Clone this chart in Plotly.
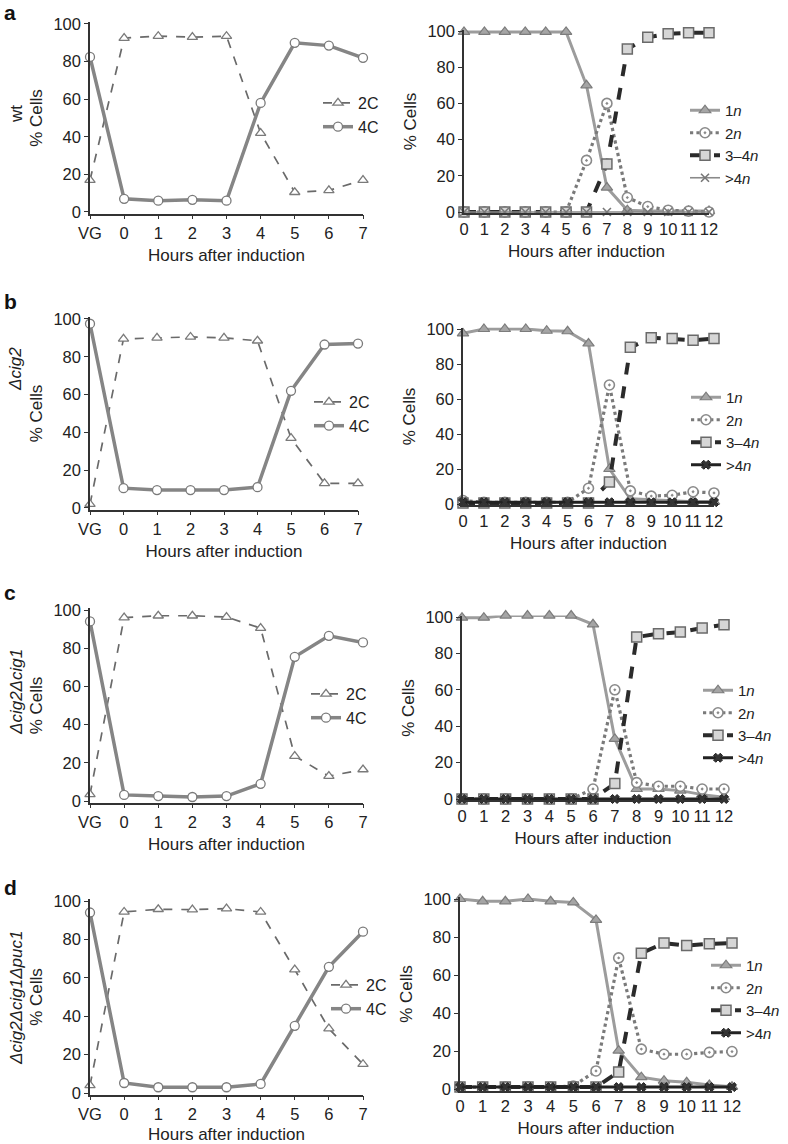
import plotly.graph_objects as go

W, H = 788, 1144

# ---------------- data ----------------
left_cats = ["VG", "0", "1", "2", "3", "4", "5", "6", "7"]
hours = list(range(13))

wt_2C = [17, 92.5, 93.5, 93, 93.5, 42, 10.5, 11.5, 17]
wt_4C = [82.5, 7, 6, 6.5, 6, 58, 90, 88.5, 82]
wt_1n = [99.5, 99.5, 99.5, 99.5, 99.5, 99.5, 70, 13.5, 1, 0.5, 0.5, 0.5, 0.5]
wt_2n = [0, 0, 0, 0, 0, 0, 28.5, 60, 8, 3, 1, 0.5, 0]
wt_34n = [0, 0, 0, 0, 0, 0, 0, 26.5, 90, 96.5, 98.5, 99, 99]
wt_g4n = [0, 0, 0, 0, 0, 0, 0, 0, 0, 0, 0, 0, 0]

b_2C = [2, 89.5, 90, 90.5, 90, 88.5, 37, 13, 13]
b_4C = [97.5, 10.5, 9.5, 9.5, 9.5, 11, 62, 86.5, 87]
b_1n = [97.5, 100, 100, 100, 99, 98.7, 91.7, 20, 3, 2.3, 1.9, 1.3, 1.3]
b_2n = [2, 1, 1, 1, 1, 1, 9, 68, 7.5, 4.5, 5, 7, 6.3]
b_34n = [0.5, 0.5, 0.5, 0.5, 0.5, 0.5, 0.5, 12.5, 89.5, 95, 94.5, 93.5, 94.5]
b_g4n = [1, 1, 1, 1, 1, 1, 1, 1, 1, 1, 1, 1, 1]

c_2C = [3.5, 96, 97, 97, 96.3, 90.5, 23.5, 13, 16.5]
c_4C = [94, 3.2, 2.6, 2.1, 2.6, 9, 75.5, 86.5, 83]
c_1n = [99.6, 99.6, 100.8, 100.8, 100.8, 100.8, 96, 33, 5.5, 5.5, 4.6, 2.4, 1]
c_2n = [0, 0, 0, 0, 0, 0, 5.5, 60, 9, 7, 7, 5.5, 5.5]
c_34n = [0, 0, 0, 0, 0, 0, 0, 8.5, 89, 90.8, 91.7, 94, 95.8]
c_g4n = [0, 0, 0, 0, 0, 0, 0, 0, 0, 0, 0, 0, 0]

d_2C = [4, 94.3, 95.7, 95.5, 96, 94.3, 64.3, 33.5, 15]
d_4C = [94, 5.2, 3, 3, 3, 4.7, 35, 65.7, 84]
d_1n = [100, 98.8, 98.8, 100, 98.8, 98.2, 89, 20.2, 6.2, 4.4, 3.5, 2.1, 1.2]
d_2n = [1, 1, 1, 1, 1, 1.6, 9.5, 69, 21, 18.3, 18.3, 19.3, 19.7]
d_34n = [1, 1, 1, 1, 1, 1, 1, 9, 71.5, 76.8, 75.5, 76.4, 76.8]
d_g4n = [1, 1, 1, 1, 1, 1, 1, 1, 1, 1, 1, 1, 1]

strains = ["wt", "<i>Δcig2</i>", "<i>Δcig2Δcig1</i>", "<i>Δcig2Δcig1Δpuc1</i>"]
letters = ["a", "b", "c", "d"]
left_data = [(wt_2C, wt_4C), (b_2C, b_4C), (c_2C, c_4C), (d_2C, d_4C)]
right_data = [(wt_1n, wt_2n, wt_34n, wt_g4n), (b_1n, b_2n, b_34n, b_g4n),
              (c_1n, c_2n, c_34n, c_g4n), (d_1n, d_2n, d_34n, d_g4n)]

# ---------------- layout geometry (pixels) ----------------
left_box = [(90, 363, 24, 212), (90, 358, 319, 508), (90, 363, 610, 801), (90, 363, 901, 1093)]
right_box = [(464, 709, 31, 212), (463, 714, 329, 504), (462, 724, 617, 799), (460, 732, 899, 1089)]
left_leg = [(318, 86), (309, 385), (306, 677), (326, 968)]
right_leg = [(685, 94), (686, 381), (698, 674), (706, 949)]
strain_y = [114, 369, 692, 998]
letter_y = [13, 301, 592, 887]
PAD = 0.8  # y-range padding (data units) so lines at 0/100 are not clipped

FONT = "Liberation Sans, Arial, sans-serif"
TXT = "#222222"
AX = "#333333"


def px_x(p):
    return p / W


def px_y(p):
    return 1 - p / H


def ydom(top, bottom):
    span = bottom - top
    ext = span * PAD / 100
    return [px_y(bottom + ext), px_y(top - ext)]


fig = go.Figure()
layout = dict(
    width=W, height=H, margin=dict(l=0, r=0, t=0, b=0, autoexpand=False),
    paper_bgcolor="white", plot_bgcolor="white",
    font=dict(family=FONT, size=16, color=TXT),
    annotations=[],
)

axis_common = dict(showline=True, linecolor=AX, linewidth=1.5, ticks="outside",
                   ticklen=4, tickcolor=AX, tickwidth=1.2, showgrid=False, zeroline=False,
                   automargin=False, tickfont=dict(size=16.5, color=TXT))

for i in range(4):
    # ---- left panel ----
    ax = 2 * i + 1
    xa = "x" if ax == 1 else f"x{ax}"
    ya = "y" if ax == 1 else f"y{ax}"
    leg = "legend" if ax == 1 else f"legend{ax}"
    c2, c4 = left_data[i]
    fig.add_trace(go.Scatter(
        x=left_cats, y=c2, name="2C", xaxis=xa, yaxis=ya, legend=leg, cliponaxis=False,
        mode="lines+markers", line=dict(color="#6a6a6a", width=1.7, dash="dash"),
        marker=dict(symbol="triangle-up", size=9, color="white", line=dict(color="#7a7a7a", width=1.3))))
    fig.add_trace(go.Scatter(
        x=left_cats, y=c4, name="4C", xaxis=xa, yaxis=ya, legend=leg, cliponaxis=False,
        mode="lines+markers", line=dict(color="#858585", width=3.5),
        marker=dict(symbol="circle", size=9, color="white", line=dict(color="#7a7a7a", width=1.3))))
    x0, x1, y0, y1 = left_box[i]
    layout[f"xaxis{'' if ax == 1 else ax}"] = dict(
        axis_common, domain=[px_x(x0), px_x(x1)], anchor=ya, type="category",
        categoryorder="array", categoryarray=left_cats, range=[0, 8],
        title=dict(text="Hours after induction", font=dict(size=17, color=TXT), standoff=8))
    layout[f"yaxis{'' if ax == 1 else ax}"] = dict(
        axis_common, domain=ydom(y0, y1), anchor=xa, range=[-PAD, 100 + PAD],
        tickvals=[0, 20, 40, 60, 80, 100],
        title=dict(text="% Cells", font=dict(size=17, color=TXT), standoff=6))
    lx, ly = left_leg[i]
    layout[leg] = dict(x=px_x(lx), y=px_y(ly), xanchor="left", yanchor="top",
                       bgcolor="rgba(0,0,0,0)", font=dict(size=16, color=TXT),
                       tracegroupgap=0, itemwidth=30)

    # ---- right panel ----
    ax = 2 * i + 2
    xa = f"x{ax}"
    ya = f"y{ax}"
    leg = f"legend{ax}"
    n1, n2, n34, ng4 = right_data[i]
    fig.add_trace(go.Scatter(
        x=hours, y=n1, name="1<i>n</i>", xaxis=xa, yaxis=ya, legend=leg, cliponaxis=False,
        mode="lines+markers", line=dict(color="#9c9c9c", width=3),
        marker=dict(symbol="triangle-up", size=10, color="#a5a5a5", line=dict(color="#7c7c7c", width=1.2))))
    fig.add_trace(go.Scatter(
        x=hours, y=n2, name="2<i>n</i>", xaxis=xa, yaxis=ya, legend=leg, cliponaxis=False,
        mode="lines+markers", line=dict(color="#7a7a7a", width=3.2, dash="dot"),
        marker=dict(symbol="circle-dot", size=10, color="white", line=dict(color="#8a8a8a", width=1.6))))
    fig.add_trace(go.Scatter(
        x=hours, y=n34, name="3–4<i>n</i>", xaxis=xa, yaxis=ya, legend=leg, cliponaxis=False,
        mode="lines+markers", line=dict(color="#2b2b2b", width=4, dash="dash"),
        marker=dict(symbol="square", size=10, color="#d6d6d6", line=dict(color="#6a6a6a", width=1.5))))
    if i == 0:
        g4_line = dict(color="#8a8a8a", width=1.6)
        g4_mark = dict(symbol="x-thin", size=8, color="#777777", line=dict(color="#777777", width=1.6))
    else:
        g4_line = dict(color="#222222", width=3)
        g4_mark = dict(symbol="x", size=8, color="#333333", line=dict(color="#222222", width=1))
    fig.add_trace(go.Scatter(
        x=hours, y=ng4, name="&gt;4<i>n</i>", xaxis=xa, yaxis=ya, legend=leg, cliponaxis=False,
        mode="lines+markers", line=g4_line, marker=g4_mark))
    x0, x1, y0, y1 = right_box[i]
    layout[f"xaxis{ax}"] = dict(
        axis_common, domain=[px_x(x0), px_x(x1)], anchor=ya, range=[0, 12],
        tickvals=hours, ticklen=0,
        title=dict(text="Hours after induction", font=dict(size=17, color=TXT), standoff=8))
    layout[f"yaxis{ax}"] = dict(
        axis_common, domain=ydom(y0, y1), anchor=xa, range=[-PAD, 100 + PAD],
        tickvals=[0, 20, 40, 60, 80, 100],
        title=dict(text="% Cells", font=dict(size=17, color=TXT), standoff=6))
    lx, ly = right_leg[i]
    layout[leg] = dict(x=px_x(lx), y=px_y(ly), xanchor="left", yanchor="top",
                       bgcolor="rgba(0,0,0,0)", font=dict(size=15, color=TXT),
                       tracegroupgap=0, itemwidth=30)

    # ---- annotations ----
    layout["annotations"].append(dict(
        text=f"<b>{letters[i]}</b>", x=px_x(2), y=px_y(letter_y[i]), xref="paper", yref="paper",
        xanchor="left", yanchor="middle", showarrow=False, font=dict(size=21, color="#111111")))
    layout["annotations"].append(dict(
        text=strains[i], x=px_x(16), y=px_y(strain_y[i]), xref="paper", yref="paper",
        xanchor="center", yanchor="middle", textangle=-90, showarrow=False,
        font=dict(size=17, color=TXT)))

fig.update_layout(**layout)
fig.write_html("out.html", config={"displayModeBar": False},
               post_script="document.body.style.margin='0';")
